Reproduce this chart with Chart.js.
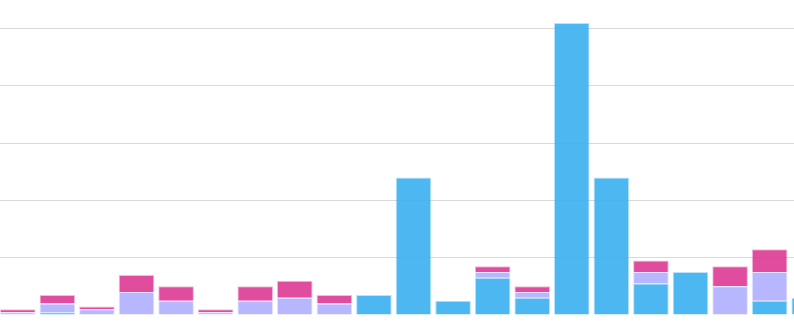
<!DOCTYPE html>
<html>
<head>
<meta charset="utf-8">
<script src="https://cdn.jsdelivr.net/npm/chart.js@4"></script>
<style>
  html, body { margin: 0; padding: 0; background: #fff; overflow: hidden; }
  #wrap { position: absolute; left: -2px; top: 0; width: 831px; height: 315px; }
</style>
</head>
<body>
<div id="wrap"><canvas id="chart1"></canvas></div>
<script>
const labels = ["1", "2", "3", "4", "5", "6", "7", "8", "9", "10", "11",
    "12", "13", "14", "15", "16", "17", "18", "19", "20", "21"];
const blueValues = [0, 1, 0, 0, 0, 0, 0, 0, 0, 7, 48, 5, 13, 6, 102, 48, 11, 15, 0, 5, 6];
const lavenderValues = [1, 3, 2, 8, 5, 1, 5, 6, 4, 0, 0, 0, 2, 2, 0, 0, 4, 0, 10, 10, 0];
const pinkValues = [1, 3, 1, 6, 5, 1, 5, 6, 3, 0, 0, 0, 2, 2, 0, 0, 4, 0, 7, 8, 0];

function dataset(label, data, color) {
    return {
        label: label,
        data: data,
        backgroundColor: `rgba(${color[0]},${color[1]},${color[2]},0.9)`,
        borderColor: `rgba(${color[0]},${color[1]},${color[2]},0.35)`,
        borderWidth: 1,
        categoryPercentage: 1,
        barPercentage: 0.9
    };
}

new Chart("chart1", {
    type: "bar",
    data: {
        labels: labels,
        datasets: [
            dataset("A", blueValues, [58, 175, 239]),
            dataset("B", lavenderValues, [175, 175, 255]),
            dataset("C", pinkValues, [221, 56, 147])
        ]
    },
    options: {
        responsive: true,
        maintainAspectRatio: false,
        animation: false,
        layout: { padding: 0 },
        plugins: {
            legend: { display: false },
            tooltip: { enabled: false }
        },
        scales: {
            x: {
                stacked: true,
                grid: { display: false, drawTicks: false },
                border: { display: false },
                ticks: { display: false }
            },
            y: {
                stacked: true,
                min: 0,
                max: 110,
                grid: { color: "#d9d9d9", lineWidth: 1, drawTicks: false },
                border: { display: false },
                ticks: { display: false, stepSize: 20 },
                // no gridline at the top edge
                afterBuildTicks: axis => {
                    axis.ticks = axis.ticks.filter(t => t.value % 20 === 0);
                }
            }
        }
    }
});
</script>
</body>
</html>
